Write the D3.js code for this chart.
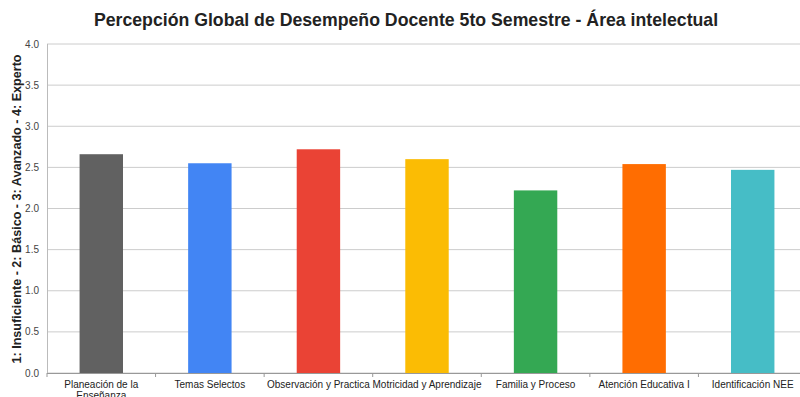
<!DOCTYPE html>
<html>
<head>
<meta charset="utf-8">
<script src="https://d3js.org/d3.v7.min.js"></script>
<style>
body { margin: 0; background: #fff; }
svg { display: block; font-family: Arial, "Liberation Sans", sans-serif; }
</style>
</head>
<body>
<script>
var categories = ["Planeación de la Enseñanza", "Temas Selectos", "Observación y Practica",
  "Motricidad y Aprendizaje", "Familia y Proceso", "Atención Educativa I", "Identificación NEE"];
var values = [2.66, 2.55, 2.72, 2.60, 2.22, 2.54, 2.47];
var colors = ["#616161", "#4285f4", "#ea4335", "#fbbc04", "#34a853", "#ff6d01", "#46bdc6"];
var yTicks = [0, 0.5, 1, 1.5, 2, 2.5, 3, 3.5, 4];

var width = 800, height = 397;
var svg = d3.select("body").append("svg")
  .attr("width", width)
  .attr("height", height);

var x = d3.scaleBand().domain(categories).range([47, 807]).paddingInner(0.6).paddingOuter(0.3);
var y = d3.scaleLinear().domain([0, 4]).range([373, 44]);

// gridlines
svg.selectAll("line.grid")
  .data(yTicks)
  .enter().append("line")
  .attr("class", "grid")
  .attr("x1", 47).attr("x2", 800)
  .attr("y1", function(d) { return y(d); })
  .attr("y2", function(d) { return y(d); })
  .attr("stroke", "#cccccc")
  .attr("stroke-width", 1);

// y tick labels
svg.selectAll("text.ytick")
  .data(yTicks)
  .enter().append("text")
  .attr("class", "ytick")
  .attr("x", 39)
  .attr("y", function(d) { return y(d) + 3.5; })
  .attr("text-anchor", "end")
  .style("font-size", "10px")
  .style("fill", "#444")
  .text(function(d) { return d.toFixed(1); });

// bars
svg.selectAll("rect.bar")
  .data(values)
  .enter().append("rect")
  .attr("class", "bar")
  .attr("x", function(d, i) { return x(categories[i]); })
  .attr("width", x.bandwidth())
  .attr("y", function(d) { return y(d); })
  .attr("height", function(d) { return y(0) - y(d); })
  .attr("fill", function(d, i) { return colors[i]; });

// axes lines
svg.append("line")
  .attr("x1", 47.5).attr("x2", 47.5)
  .attr("y1", 44).attr("y2", 373)
  .attr("stroke", "#bbb");
svg.append("line")
  .attr("x1", 47).attr("x2", 800)
  .attr("y1", 373.5).attr("y2", 373.5)
  .attr("stroke", "#999");

// x tick marks at band boundaries
var bounds = d3.range(categories.length + 1).map(function(i) { return 47 + i * (760 / categories.length); });
svg.selectAll("line.xtick")
  .data(bounds)
  .enter().append("line")
  .attr("class", "xtick")
  .attr("x1", function(d) { return d; })
  .attr("x2", function(d) { return d; })
  .attr("y1", 373).attr("y2", 377)
  .attr("stroke", "#999");

// category labels
svg.selectAll("text.xlab")
  .data(categories)
  .enter().append("text")
  .attr("class", "xlab")
  .attr("x", function(d) { return x(d) + x.bandwidth() / 2; })
  .attr("y", 388)
  .attr("text-anchor", "middle")
  .style("font-size", "10px")
  .style("fill", "#222")
  .each(function(d) {
    var t = d3.select(this);
    if (d == "Planeación de la Enseñanza") {
      t.append("tspan").attr("x", x(d) + x.bandwidth() / 2).text("Planeación de la");
      t.append("tspan").attr("x", x(d) + x.bandwidth() / 2).attr("dy", 11).text("Enseñanza");
    } else {
      t.text(d);
    }
  });

// title
svg.append("text")
  .attr("x", 406)
  .attr("y", 26)
  .attr("text-anchor", "middle")
  .style("font-size", "17.7px")
  .style("font-weight", "bold")
  .style("fill", "#222")
  .text("Percepción Global de Desempeño Docente 5to Semestre - Área intelectual");

// y axis title
svg.append("text")
  .attr("transform", "translate(21," + 209 + ") rotate(-90)")
  .attr("text-anchor", "middle")
  .style("font-size", "12.6px")
  .style("font-weight", "bold")
  .style("fill", "#222")
  .text("1: Insuficiente - 2: Básico - 3: Avanzado - 4: Experto");
</script>
</body>
</html>
